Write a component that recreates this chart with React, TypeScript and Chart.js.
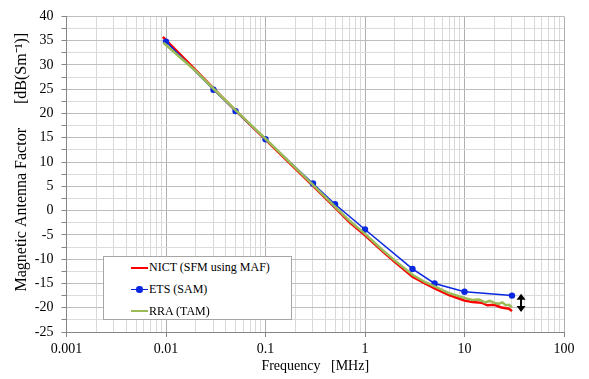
import React, { useEffect, useRef } from "react";
import { Chart, registerables } from "chart.js";

Chart.register(...registerables);

// ---- data (frequency in MHz, magnetic antenna factor in dB(S/m)) ----
const nictFreq = [0.0093, 0.01, 0.02, 0.03, 0.05, 0.07, 0.1, 0.2, 0.3, 0.5, 0.7, 1, 1.5, 2, 3, 4, 5, 7, 10, 12, 15, 17, 20, 23, 26, 28, 30];
const nictMaf = [35.8, 35.1, 28.9, 25.2, 20.6, 17.7, 14.6, 8.6, 5.1, 0.6, -2.4, -5.1, -8.4, -10.6, -13.6, -15.0, -16.0, -17.4, -18.5, -18.8, -19.0, -19.5, -19.4, -19.9, -20.1, -20.2, -20.7];

const etsFreq = [0.01, 0.03, 0.05, 0.1, 0.3, 0.5, 1, 3, 5, 10, 30];
const etsMaf = [34.8, 24.9, 20.5, 14.7, 5.6, 1.3, -3.9, -12.0, -15.0, -16.7, -17.5];

const rraFreq = [0.0094, 0.01, 0.02, 0.03, 0.05, 0.07, 0.1, 0.2, 0.3, 0.5, 0.7, 1, 1.5, 2, 3, 4, 5, 7, 10, 12, 14, 16, 18, 20, 22, 24, 26, 28, 30];
const rraMaf = [34.6, 34.1, 28.7, 25.1, 20.7, 17.8, 14.8, 8.8, 5.3, 0.8, -2.1, -4.8, -8.1, -10.3, -13.2, -14.7, -15.6, -17.0, -18.0, -18.4, -18.3, -18.9, -18.6, -19.0, -19.2, -18.9, -19.5, -19.4, -19.9];

const xTickLabels = ["0.001", "0.01", "0.1", "1", "10", "100"];
const yMin = -25;
const yMax = 40;
const yStep = 2.5;

// double arrow annotation (data coordinates)
const arrowFreq = 37;
const arrowTop = -17.1;
const arrowBottom = -20.9;

const seriesNames = ["NICT (SFM using MAF)", "ETS (SAM)", "RRA (TAM)"];
const seriesColors = ["#ff0000", "#0a28e0", "#9bbb59"];

const SERIF = "'Liberation Serif', 'Times New Roman', serif";

const isDecade = (v: number) => {
  const l = Math.log10(v);
  return Math.abs(l - Math.round(l)) < 1e-9;
};

const arrowPlugin = {
  id: "doubleArrow",
  afterDatasetsDraw(chart: any) {
    const { ctx, scales } = chart;
    const x = scales.x.getPixelForValue(arrowFreq);
    const y1 = scales.y.getPixelForValue(arrowTop);
    const y2 = scales.y.getPixelForValue(arrowBottom);
    const hw = 4.5;
    const hh = 6;
    ctx.save();
    ctx.strokeStyle = "#000";
    ctx.fillStyle = "#000";
    ctx.lineWidth = 2;
    ctx.beginPath();
    ctx.moveTo(x, y1 + hh - 1);
    ctx.lineTo(x, y2 - hh + 1);
    ctx.stroke();
    ctx.beginPath();
    ctx.moveTo(x, y1);
    ctx.lineTo(x - hw, y1 + hh);
    ctx.lineTo(x + hw, y1 + hh);
    ctx.closePath();
    ctx.fill();
    ctx.beginPath();
    ctx.moveTo(x, y2);
    ctx.lineTo(x - hw, y2 - hh);
    ctx.lineTo(x + hw, y2 - hh);
    ctx.closePath();
    ctx.fill();
    ctx.restore();
  },
};

export default function App() {
  const canvasRef = useRef<HTMLCanvasElement | null>(null);

  useEffect(() => {
    if (!canvasRef.current) return;
    const toPts = (xs: number[], ys: number[]) => xs.map((x, i) => ({ x, y: ys[i] }));
    const chart = new Chart(canvasRef.current, {
      type: "line",
      data: {
        datasets: [
          {
            label: seriesNames[0],
            data: toPts(nictFreq, nictMaf),
            borderColor: seriesColors[0],
            backgroundColor: seriesColors[0],
            borderWidth: 2.5,
            pointRadius: 0,
            tension: 0,
            order: 2,
          },
          {
            label: seriesNames[1],
            data: toPts(etsFreq, etsMaf),
            borderColor: seriesColors[1],
            backgroundColor: seriesColors[1],
            borderWidth: 1.5,
            pointRadius: 3.2,
            pointBorderWidth: 0,
            pointBackgroundColor: seriesColors[1],
            tension: 0,
            order: 1,
          },
          {
            label: seriesNames[2],
            data: toPts(rraFreq, rraMaf),
            borderColor: seriesColors[2],
            backgroundColor: seriesColors[2],
            borderWidth: 2.5,
            pointRadius: 0,
            tension: 0,
            order: 0,
          },
        ],
      },
      options: {
        animation: false,
        responsive: false,
        devicePixelRatio: 1,
        layout: { padding: { top: 10, right: 25, left: 0, bottom: 0 } },
        plugins: {
          legend: { display: false },
          tooltip: { enabled: false },
        },
        scales: {
          x: {
            type: "logarithmic",
            min: 0.001,
            max: 100,
            afterFit: (s: any) => {
              s.height = 47;
            },
            afterBuildTicks: (s: any) => {
              const t: { value: number }[] = [];
              for (let e = -3; e < 2; e++) {
                for (let m = 1; m < 10; m++) {
                  t.push({ value: parseFloat((m * Math.pow(10, e)).toPrecision(6)) });
                }
              }
              t.push({ value: 100 });
              s.ticks = t;
            },
            ticks: {
              autoSkip: false,
              maxRotation: 0,
              minRotation: 0,
              padding: 4,
              color: "#000",
              font: { family: SERIF, size: 14 },
              callback: (v: any) => {
                const n = Number(v);
                if (!isDecade(n)) return "";
                return xTickLabels[Math.round(Math.log10(n)) + 3];
              },
            },
            grid: {
              color: (c: any) => (c.tick && isDecade(c.tick.value) ? "#b0b0b0" : "#d9d9d9"),
              tickColor: (c: any) => (c.tick && isDecade(c.tick.value) ? "#868686" : "rgba(0,0,0,0)"),
              tickLength: 5,
              lineWidth: 1,
            },
            border: { color: "#868686" },
            title: {
              display: true,
              text: "Frequency   [MHz]",
              color: "#000",
              font: { family: SERIF, size: 14 },
              padding: { top: 0, bottom: 4 },
            },
          },
          y: {
            type: "linear",
            min: yMin,
            max: yMax,
            afterFit: (s: any) => {
              s.width = 66.5;
            },
            ticks: {
              stepSize: yStep,
              autoSkip: false,
              padding: 8,
              color: "#000",
              font: { family: SERIF, size: 14 },
              callback: (v: any) => (Number(v) % 5 === 0 ? String(v) : ""),
            },
            grid: {
              color: (c: any) => (c.tick && c.tick.value % 5 === 0 ? "#bdbdbd" : "#dcdcdc"),
              tickColor: "#868686",
              tickLength: 5,
              lineWidth: 1,
            },
            border: { color: "#868686" },
            title: {
              display: true,
              text: "      Magnetic Antenna Factor      [dB(Sm\u207B\u00B9)]",
              color: "#000",
              font: { family: SERIF, size: 16 },
              padding: { top: 12, bottom: 0 },
            },
          },
        },
      },
      plugins: [arrowPlugin],
    } as any);
    return () => chart.destroy();
  }, []);

  const rowTops = [0, 21.7, 43.4];

  return (
    <div style={{ position: "fixed", left: 0, top: 0, width: 589, height: 379, background: "#fff" }}>
      <canvas ref={canvasRef} width={589} height={379} style={{ display: "block" }} />
      <div
        style={{
          position: "absolute",
          left: 103,
          top: 256,
          width: 187,
          height: 62,
          border: "1px solid #a6a6a6",
          background: "#fff",
          fontFamily: SERIF,
          fontSize: 12,
          color: "#000",
        }}
      >
        {seriesNames.map((name, i) => (
          <div
            key={name}
            style={{
              position: "absolute",
              left: 0,
              top: rowTops[i],
              height: 21.7,
              width: "100%",
              display: "flex",
              alignItems: "center",
            }}
          >
            <div style={{ position: "relative", marginLeft: 27, width: 17, height: 12 }}>
              <div
                style={{
                  position: "absolute",
                  left: 0,
                  right: 0,
                  top: i === 1 ? 5.25 : 4.75,
                  height: i === 1 ? 1.5 : 2.5,
                  background: seriesColors[i],
                }}
              />
              {i === 1 && (
                <div
                  style={{
                    position: "absolute",
                    left: 5.3,
                    top: 2.8,
                    width: 6.4,
                    height: 6.4,
                    borderRadius: "50%",
                    background: seriesColors[i],
                  }}
                />
              )}
            </div>
            <span style={{ marginLeft: 1, whiteSpace: "pre" }}>{name}</span>
          </div>
        ))}
      </div>
    </div>
  );
}
